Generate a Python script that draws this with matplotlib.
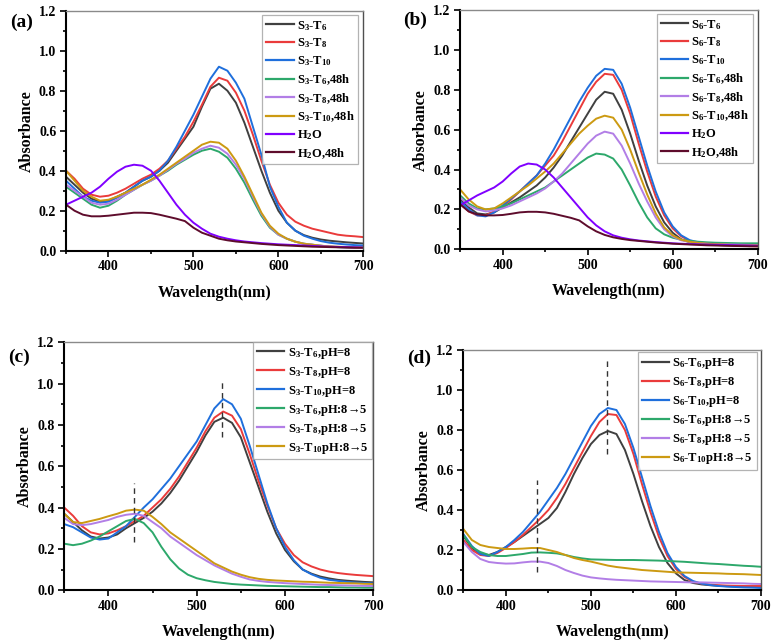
import numpy as np
import matplotlib
matplotlib.use("Agg")
import matplotlib.pyplot as plt
from matplotlib.ticker import MultipleLocator, FormatStrFormatter

plt.rcParams['font.family'] = ['Liberation Serif', 'DejaVu Serif']
plt.rcParams['font.weight'] = 'bold'
plt.rcParams['mathtext.fontset'] = 'custom'
plt.rcParams['mathtext.rm'] = 'Liberation Serif:bold'
plt.rcParams['mathtext.bf'] = 'Liberation Serif:bold'
plt.rcParams['mathtext.it'] = 'Liberation Serif:bold'

# ---------------- data (absorbance every 10 nm, 350..700 nm) ----------------
wavelength = list(range(350, 701, 10))

# panel (a)
a_S3_T6 = [.37, .33, .29, .26, .245, .25, .27, .29, .32, .35,
           .37, .40, .44, .50, .56, .62, .72, .81, .835, .80,
           .74, .64, .52, .40, .29, .20, .14, .10, .078, .065,
           .056, .05, .046, .042, .039, .036]
a_S3_T8 = [.40, .36, .31, .28, .27, .275, .29, .31, .335, .36,
           .38, .41, .45, .51, .57, .645, .73, .82, .865, .85,
           .79, .70, .58, .45, .33, .24, .18, .145, .125, .11,
           .10, .09, .08, .075, .072, .068]
a_S3_T10 = [.35, .31, .27, .25, .24, .245, .265, .29, .32, .35,
            .37, .40, .45, .52, .60, .68, .77, .86, .92, .90,
            .84, .76, .62, .48, .32, .22, .14, .10, .075, .06,
            .048, .04, .035, .031, .028, .026]
a_S3_T6_48h = [.32, .29, .26, .23, .215, .225, .25, .28, .305, .33,
               .35, .375, .40, .43, .455, .48, .50, .51, .495, .465,
               .41, .34, .255, .175, .115, .08, .06, .045, .035, .03,
               .025, .02, .018, .016, .015, .014]
a_S3_T8_48h = [.33, .30, .27, .24, .23, .235, .255, .28, .305, .33,
               .35, .375, .405, .435, .46, .49, .51, .525, .515, .485,
               .43, .36, .27, .185, .12, .08, .06, .045, .035, .03,
               .025, .02, .018, .016, .015, .014]
a_S3_T10_48h = [.40, .35, .30, .27, .25, .255, .27, .29, .31, .33,
                .355, .38, .41, .44, .47, .50, .53, .545, .54, .51,
                .45, .37, .28, .19, .125, .085, .06, .045, .035, .03,
                .025, .022, .02, .018, .016, .015]
a_H2O = [.23, .25, .27, .29, .32, .36, .395, .42, .43, .425,
         .40, .35, .29, .23, .18, .14, .11, .085, .07, .06,
         .052, .046, .042, .038, .035, .032, .03, .028, .026, .024,
         .022, .02, .019, .018, .017, .016]
a_H2O_48h = [.23, .20, .18, .172, .172, .175, .18, .185, .19, .19,
             .188, .18, .17, .16, .148, .115, .09, .075, .06, .052,
             .046, .042, .038, .034, .031, .028, .026, .024, .022, .02,
             .019, .018, .017, .016, .015, .015]

# panel (b)
b_S6_T6 = [.25, .21, .18, .175, .185, .21, .235, .26, .29, .32,
           .36, .41, .47, .54, .61, .68, .75, .79, .78, .70,
           .58, .445, .32, .215, .135, .083, .05, .035, .028, .025,
           .022, .02, .019, .018, .017, .016]
b_S6_T8 = [.23, .19, .17, .17, .19, .215, .25, .29, .33, .37,
           .42, .47, .54, .62, .70, .78, .84, .88, .875, .80,
           .68, .53, .39, .265, .17, .105, .065, .042, .032, .027,
           .024, .022, .02, .018, .016, .015]
b_S6_T10 = [.24, .20, .17, .165, .185, .22, .255, .29, .33, .37,
            .43, .50, .58, .66, .74, .81, .87, .905, .90, .83,
            .71, .565, .42, .29, .185, .115, .07, .046, .035, .03,
            .026, .023, .021, .019, .018, .017]
b_S6_T6_48h = [.27, .23, .205, .20, .205, .215, .23, .25, .27, .29,
               .31, .34, .37, .40, .43, .46, .48, .475, .455, .40,
               .32, .235, .16, .105, .075, .058, .048, .042, .038, .035,
               .033, .032, .031, .03, .03, .03]
b_S6_T8_48h = [.26, .22, .20, .19, .195, .205, .22, .24, .26, .28,
               .305, .34, .38, .43, .48, .53, .57, .59, .58, .52,
               .43, .33, .24, .16, .10, .065, .045, .037, .032, .028,
               .026, .025, .024, .023, .022, .021]
b_S6_T10_48h = [.30, .25, .215, .20, .205, .23, .26, .29, .32, .355,
                .39, .43, .48, .53, .58, .62, .655, .67, .66, .60,
                .50, .385, .275, .18, .11, .07, .048, .038, .032, .028,
                .026, .024, .022, .021, .02, .02]
b_H2O = [.22, .245, .27, .29, .31, .34, .38, .415, .43, .425,
         .40, .36, .31, .26, .21, .16, .12, .09, .07, .058,
         .05, .044, .04, .036, .033, .03, .028, .026, .025, .024,
         .023, .022, .021, .02, .019, .018]
b_H2O_48h = [.225, .19, .175, .17, .17, .172, .178, .185, .188, .188,
             .185, .178, .168, .158, .145, .115, .09, .072, .06, .052,
             .046, .042, .038, .034, .031, .028, .026, .024, .022, .02,
             .019, .018, .017, .016, .015, .015]

# panel (c)
c_S3_T6_pH8 = [.37, .33, .29, .26, .25, .255, .27, .30, .325, .35,
               .38, .42, .47, .53, .60, .67, .75, .815, .835, .81,
               .74, .62, .50, .38, .275, .195, .14, .10, .08, .066,
               .057, .05, .046, .043, .04, .038]
c_S3_T8_pH8 = [.40, .36, .31, .28, .27, .275, .29, .31, .335, .36,
               .40, .44, .49, .55, .62, .69, .77, .835, .865, .845,
               .78, .66, .53, .41, .30, .225, .17, .135, .115, .10,
               .09, .083, .078, .074, .071, .068]
c_S3_T10_pH8 = [.32, .305, .28, .255, .245, .25, .28, .31, .355, .40,
                .44, .49, .54, .60, .66, .72, .80, .88, .925, .90,
                .83, .70, .56, .42, .30, .21, .145, .10, .077, .06,
                .05, .045, .04, .037, .035, .033]
c_S3_T6_pH5 = [.225, .218, .225, .24, .26, .285, .31, .335, .345, .325,
               .28, .21, .15, .105, .075, .058, .048, .04, .035, .03,
               .027, .025, .023, .021, .02, .019, .018, .017, .016, .015,
               .015, .014, .013, .013, .012, .012]
c_S3_T8_pH5 = [.35, .32, .315, .32, .33, .34, .355, .365, .37, .36,
               .33, .30, .26, .23, .20, .17, .145, .12, .10, .08,
               .065, .052, .045, .04, .037, .034, .032, .03, .028, .026,
               .025, .024, .023, .022, .021, .02]
c_S3_T10_pH5 = [.37, .33, .325, .335, .345, .358, .37, .385, .39, .385,
                .355, .32, .28, .25, .22, .19, .16, .13, .11, .09,
                .075, .063, .055, .05, .047, .045, .043, .041, .04, .038,
                .036, .035, .034, .033, .031, .03]

# panel (d)
d_S6_T6_pH8 = [.27, .21, .18, .175, .19, .215, .24, .27, .30, .33,
               .36, .41, .49, .58, .66, .73, .775, .795, .78, .70,
               .58, .445, .32, .215, .135, .083, .05, .035, .028, .024,
               .021, .019, .017, .016, .015, .015]
d_S6_T8_pH8 = [.25, .20, .175, .17, .185, .21, .24, .275, .315, .355,
               .40, .46, .53, .61, .69, .77, .84, .88, .875, .80,
               .68, .53, .39, .265, .17, .105, .065, .042, .032, .027,
               .024, .022, .021, .02, .02, .02]
d_S6_T10_pH8 = [.28, .22, .18, .17, .19, .215, .25, .29, .34, .39,
                .45, .51, .58, .66, .74, .82, .88, .91, .90, .83,
                .71, .565, .42, .29, .185, .115, .07, .045, .032, .025,
                .02, .017, .015, .013, .012, .01]
d_S6_T6_pH5 = [.275, .215, .19, .175, .17, .17, .175, .18, .187, .188,
               .186, .183, .175, .165, .158, .153, .152, .151, .15, .15,
               .15, .149, .148, .147, .145, .143, .141, .138, .135, .132,
               .13, .127, .124, .121, .119, .116]
d_S6_T8_pH5 = [.24, .19, .155, .14, .135, .132, .133, .138, .142, .142,
               .135, .12, .10, .085, .072, .063, .058, .054, .051, .049,
               .047, .045, .043, .042, .041, .04, .039, .038, .038, .037,
               .036, .035, .034, .033, .031, .03]
d_S6_T10_pH5 = [.305, .25, .225, .215, .21, .205, .205, .207, .21, .21,
                .20, .19, .175, .16, .15, .142, .132, .122, .115, .11,
                .105, .10, .097, .094, .091, .088, .087, .086, .085, .084,
                .083, .081, .08, .079, .077, .075]

# dashed marker lines (wavelength, ymin, ymax)
c_marks = [(429, 0.235, 0.52), (529, 0.74, 1.01)]
d_marks = [(437, 0.09, 0.55), (519, 0.68, 1.15)]

y_ticks = [0.0, 0.2, 0.4, 0.6, 0.8, 1.0, 1.2]
x_ticks = [400, 500, 600, 700]

colors = {
    'k': '#404040', 'r': '#ea3b3b', 'b': '#1f6fdc', 'g': '#2da86b',
    'v': '#b27ee6', 'y': '#cc9a12', 'p': '#8000ff', 'm': '#5e0c2c',
}

W, H = 773, 642

panels = [
    ('(a)', (10, 14), [0.0854, 0.6095, 0.3846, 0.3738],
     [(a_S3_T6, 'k', r'S$_{3}$-T$_{6}$'), (a_S3_T8, 'r', r'S$_{3}$-T$_{8}$'),
      (a_S3_T10, 'b', r'S$_{3}$-T$_{10}$'), (a_S3_T6_48h, 'g', r'S$_{3}$-T$_{6}$,48h'),
      (a_S3_T8_48h, 'v', r'S$_{3}$-T$_{8}$,48h'), (a_S3_T10_48h, 'y', r'S$_{3}$-T$_{10}$,48h'),
      (a_H2O, 'p', r'H$_{2}$O'), (a_H2O_48h, 'm', r'H$_{2}$O,48h')], [],
     (358.3, 15)),
    ('(b)', (403, 12), [0.5953, 0.6117, 0.3849, 0.3727],
     [(b_S6_T6, 'k', r'S$_{6}$-T$_{6}$'), (b_S6_T8, 'r', r'S$_{6}$-T$_{8}$'),
      (b_S6_T10, 'b', r'S$_{6}$-T$_{10}$'), (b_S6_T6_48h, 'g', r'S$_{6}$-T$_{6}$,48h'),
      (b_S6_T8_48h, 'v', r'S$_{6}$-T$_{8}$,48h'), (b_S6_T10_48h, 'y', r'S$_{6}$-T$_{10}$,48h'),
      (b_H2O, 'p', r'H$_{2}$O'), (b_H2O_48h, 'm', r'H$_{2}$O,48h')], [],
     (752.7, 14)),
    ('(c)', (8, 349), [0.0831, 0.0807, 0.3998, 0.3861],
     [(c_S3_T6_pH8, 'k', r'S$_{3}$-T$_{6}$,pH=8'), (c_S3_T8_pH8, 'r', r'S$_{3}$-T$_{8}$,pH=8'),
      (c_S3_T10_pH8, 'b', r'S$_{3}$-T$_{10}$,pH=8'), (c_S3_T6_pH5, 'g', r'S$_{3}$-T$_{6}$,pH:8→5'),
      (c_S3_T8_pH5, 'v', r'S$_{3}$-T$_{8}$,pH:8→5'), (c_S3_T10_pH5, 'y', r'S$_{3}$-T$_{10}$pH:8→5')], c_marks,
     (372, 342)),
    ('(d)', (407, 350), [0.5994, 0.0810, 0.3851, 0.3738],
     [(d_S6_T6_pH8, 'k', r'S$_{6}$-T$_{6}$,pH=8'), (d_S6_T8_pH8, 'r', r'S$_{6}$-T$_{8}$,pH=8'),
      (d_S6_T10_pH8, 'b', r'S$_{6}$-T$_{10}$,pH=8'), (d_S6_T6_pH5, 'g', r'S$_{6}$-T$_{6}$,pH:8→5'),
      (d_S6_T8_pH5, 'v', r'S$_{6}$-T$_{8}$,pH:8→5'), (d_S6_T10_pH5, 'y', r'S$_{6}$-T$_{10}$pH:8→5')], d_marks,
     (756.7, 352.3)),
]

fig = plt.figure(figsize=(W / 100, H / 100), dpi=100)

for tag, tagpos, pos, series, marks, lcorner in panels:
    ax = fig.add_axes(pos)
    for vals, c, lab in series:
        assert len(vals) == len(wavelength)
        ax.plot(wavelength, vals, color=colors[c], lw=1.4, label=lab,
                solid_joinstyle='round')
    for xm, y0, y1 in marks:
        ax.plot([xm, xm], [y0, y1], color='#333333', lw=1.0, dashes=(4, 3))
    ax.set_xlim(350, 700)
    ax.set_ylim(0, 1.2)
    ax.set_xticks(x_ticks)
    ax.xaxis.set_minor_locator(MultipleLocator(50))
    ax.set_yticks(y_ticks)
    ax.yaxis.set_minor_locator(MultipleLocator(0.1))
    ax.yaxis.set_major_formatter(FormatStrFormatter('%.1f'))
    ax.tick_params(axis='both', which='both', direction='out', top=False, right=False,
                   labelsize=10, width=1.2, pad=3)
    ax.tick_params(which='major', length=4)
    ax.tick_params(which='minor', length=2.5)
    for lbl in ax.get_xticklabels() + ax.get_yticklabels():
        lbl.set_fontweight('bold')
    for s in ('left', 'bottom'):
        ax.spines[s].set_linewidth(1.5)
        ax.spines[s].set_color('black')
    ax.spines['top'].set_color('#8a8a8a')
    ax.spines['right'].set_color('#505050')
    ax.spines['top'].set_linewidth(1.0)
    ax.spines['right'].set_linewidth(1.0)
    ax.set_xlabel('Wavelength(nm)', fontsize=11.5, fontweight='bold', labelpad=8)
    ax.set_ylabel('Absorbance', fontsize=11.5, fontweight='bold', labelpad=3)
    lx, ly = lcorner
    leg = ax.legend(loc='upper right',
                    bbox_to_anchor=(lx / W, 1 - ly / H), bbox_transform=fig.transFigure,
                    fontsize=9, frameon=True, fancybox=False, borderaxespad=0,
                    handlelength=2.2, handletextpad=0.25, labelspacing=0.32, borderpad=0.3)
    leg.get_frame().set_edgecolor('#a0a0a0')
    leg.get_frame().set_linewidth(0.9)
    for t in leg.get_texts():
        t.set_fontweight('bold')
    for l in leg.get_lines():
        l.set_linewidth(1.6)
    fig.text(tagpos[0] / W, 1 - tagpos[1] / H, tag, fontsize=14, fontweight='bold',
             ha='left', va='top')

fig.savefig('out.png', dpi=100)
